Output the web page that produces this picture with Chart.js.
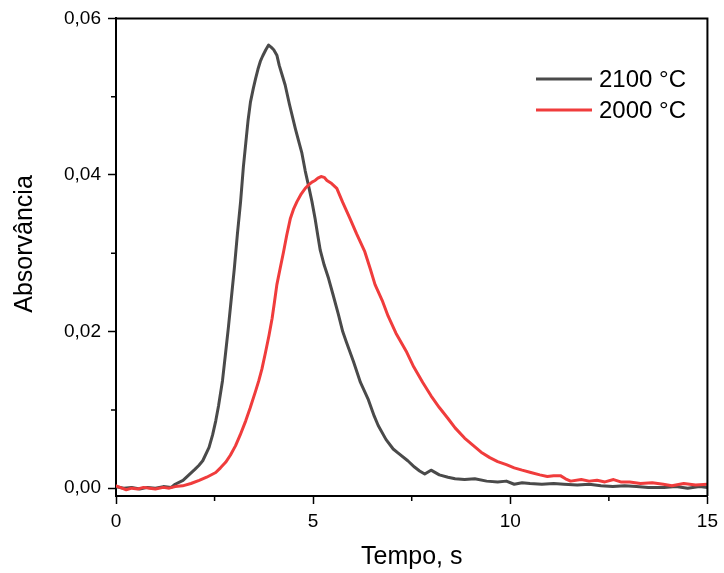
<!DOCTYPE html>
<html lang="pt">
<head>
<meta charset="UTF-8">
<title>Absorvância x Tempo</title>
<script src="https://cdn.jsdelivr.net/npm/chart.js"></script>
<style>
  html, body { margin: 0; padding: 0; background: #fff; }
  #wrap { width: 724px; height: 573px; }
</style>
</head>
<body>
<div id="wrap"><canvas id="chartCanvas" width="724" height="573"></canvas></div>
<script>
// curva 2100 °C
const tempo2100 = [0.0, 0.2, 0.4, 0.6, 0.8, 1.0, 1.2, 1.4, 1.5, 1.7, 1.85, 2.0, 2.1, 2.2, 2.36, 2.45, 2.53, 2.6, 2.7, 2.78,
  2.85, 2.92, 3.0, 3.08, 3.16, 3.23, 3.29, 3.35, 3.41, 3.48, 3.54, 3.6, 3.66, 3.72, 3.8, 3.87, 3.94, 4.0, 4.08, 4.14,
  4.2, 4.29, 4.4, 4.55, 4.65, 4.71, 4.8, 4.88, 4.97, 5.05, 5.12, 5.18, 5.28, 5.39, 5.5, 5.64, 5.75, 5.84, 6.02, 6.2,
  6.4, 6.55, 6.65, 6.85, 7.03, 7.15, 7.4, 7.57, 7.7, 7.83, 7.99, 8.2, 8.42, 8.6, 8.84, 9.1, 9.4, 9.68, 9.9, 10.1,
  10.3, 10.5, 10.8, 11.1, 11.36, 11.7, 12.0, 12.3, 12.6, 12.9, 13.2, 13.5, 13.9, 14.2, 14.5, 14.8, 15.0];
const abs2100 = [0.0002, 0.0000, 0.0001, -0.0001, 0.0001, 0.0000, 0.0002, 0.0001, 0.0005, 0.0010, 0.0017, 0.0024, 0.0029, 0.0035, 0.0052, 0.0068, 0.0086, 0.0105, 0.0137, 0.0173,
  0.0205, 0.0240, 0.0280, 0.0325, 0.0366, 0.0410, 0.0440, 0.0470, 0.0493, 0.0510, 0.0523, 0.0535, 0.0545, 0.0552, 0.0560, 0.0566, 0.0563, 0.0560, 0.0553, 0.0540,
  0.0530, 0.0515, 0.0490, 0.0459, 0.0440, 0.0429, 0.0405, 0.0387, 0.0366, 0.0344, 0.0322, 0.0304, 0.0285, 0.0268, 0.0248, 0.0222, 0.0200, 0.0187, 0.0162, 0.0135,
  0.0113, 0.0092, 0.0080, 0.0062, 0.0050, 0.0045, 0.0035, 0.0027, 0.0022, 0.0018, 0.0023, 0.0017, 0.0014, 0.0012, 0.0011, 0.0012, 0.0009, 0.0008, 0.0009, 0.0005,
  0.0007, 0.0006, 0.0005, 0.0006, 0.0005, 0.0004, 0.0005, 0.0003, 0.0002, 0.0003, 0.0002, 0.0001, 0.0001, 0.0002, 0.0000, 0.0002, 0.0001];

// curva 2000 °C
const tempo2000 = [0.0, 0.15, 0.26, 0.4, 0.55, 0.7, 0.85, 1.0, 1.2, 1.35, 1.5, 1.69, 1.9, 2.11, 2.3, 2.53, 2.65, 2.78, 2.9, 3.03,
  3.15, 3.29, 3.4, 3.54, 3.62, 3.7, 3.79, 3.88, 3.96, 4.02, 4.08, 4.16, 4.25, 4.33, 4.42, 4.5, 4.59, 4.7, 4.8, 4.9,
  4.97, 5.05, 5.12, 5.2, 5.28, 5.35, 5.47, 5.6, 5.75, 5.93, 6.1, 6.31, 6.45, 6.57, 6.75, 6.9, 7.1, 7.36, 7.55, 7.78,
  7.99, 8.2, 8.42, 8.6, 8.84, 9.05, 9.26, 9.48, 9.68, 9.9, 10.1, 10.3, 10.52, 10.75, 10.94, 11.1, 11.27, 11.4, 11.53, 11.8,
  12.0, 12.2, 12.4, 12.62, 12.8, 13.03, 13.3, 13.6, 13.88, 14.1, 14.4, 14.7, 15.0];
const abs2000 = [0.0003, 0.0000, -0.0002, 0.0000, -0.0001, 0.0001, 0.0000, -0.0001, 0.0001, 0.0000, 0.0002, 0.0003, 0.0006, 0.0010, 0.0014, 0.0020, 0.0026, 0.0033, 0.0042, 0.0054,
  0.0068, 0.0086, 0.0102, 0.0124, 0.0137, 0.0152, 0.0173, 0.0195, 0.0217, 0.0238, 0.0260, 0.0280, 0.0302, 0.0323, 0.0344, 0.0356, 0.0366, 0.0376, 0.0383, 0.0388,
  0.0391, 0.0393, 0.0396, 0.0398, 0.0397, 0.0393, 0.0389, 0.0383, 0.0365, 0.0345, 0.0325, 0.0302, 0.0280, 0.0260, 0.0240, 0.0220, 0.0198, 0.0175, 0.0155, 0.0135,
  0.0118, 0.0103, 0.0089, 0.0077, 0.0064, 0.0055, 0.0046, 0.0039, 0.0034, 0.0030, 0.0026, 0.0023, 0.0020, 0.0017, 0.0015, 0.0016, 0.0016, 0.0012, 0.0009, 0.0011,
  0.0009, 0.0010, 0.0008, 0.0011, 0.0008, 0.0008, 0.0006, 0.0007, 0.0005, 0.0003, 0.0006, 0.0004, 0.0005];

const seriesLabels = ["2100 °C", "2000 °C"];
const seriesColors = ["#4a4a4a", "#f03c3c"];
const xMajor = [0, 5, 10, 15];
const yMajor = [0, 0.02, 0.04, 0.06];

const FONT = '"Liberation Sans", Arial, sans-serif';

function pares(xs, ys) {
  return xs.map((x, i) => ({ x: x, y: ys[i] }));
}
function isMajor(list, v) {
  return list.some(m => Math.abs(m - v) < 1e-9);
}

// moldura, ticks menores, legenda e títulos dos eixos
const extras = {
  id: "extras",
  afterDraw(chart) {
    const c = chart.ctx;
    const a = chart.chartArea;
    const xs = chart.scales.x, ys = chart.scales.y;
    c.save();
    c.strokeStyle = "#000";
    c.lineWidth = 2;
    c.beginPath();
    c.moveTo(a.left, a.top); c.lineTo(a.right, a.top); c.lineTo(a.right, a.bottom);
    c.stroke();

    c.lineWidth = 1.5;
    c.beginPath();
    xs.ticks.forEach(t => {
      if (!isMajor(xMajor, t.value)) {
        const px = xs.getPixelForValue(t.value);
        c.moveTo(px, a.bottom); c.lineTo(px, a.bottom + 5);
      }
    });
    ys.ticks.forEach(t => {
      if (!isMajor(yMajor, t.value)) {
        const py = ys.getPixelForValue(t.value);
        c.moveTo(a.left, py); c.lineTo(a.left - 5, py);
      }
    });
    c.stroke();

    // legenda
    c.font = "24px " + FONT;
    c.textBaseline = "middle";
    c.textAlign = "left";
    seriesLabels.forEach((lab, i) => {
      const y = 79 + i * 31;
      c.strokeStyle = seriesColors[i];
      c.lineWidth = 3;
      c.beginPath(); c.moveTo(536, y); c.lineTo(592, y); c.stroke();
      c.fillStyle = "#000";
      c.fillText(lab, 599, y + 1);
    });

    // títulos
    c.font = "25px " + FONT;
    c.textAlign = "center";
    c.fillText("Tempo, s", (a.left + a.right) / 2, 557);
    c.translate(25, 244);
    c.rotate(-Math.PI / 2);
    c.fillText("Absorvância", 0, 0);
    c.restore();
  }
};

new Chart(document.getElementById("chartCanvas"), {
  type: "line",
  data: {
    datasets: [
      { label: seriesLabels[0], data: pares(tempo2100, abs2100), borderColor: seriesColors[0], order: 2 },
      { label: seriesLabels[1], data: pares(tempo2000, abs2000), borderColor: seriesColors[1], order: 1 }
    ]
  },
  options: {
    responsive: false,
    animation: false,
    devicePixelRatio: 1,
    layout: { padding: { top: 16, right: 13, left: 0, bottom: 0 } },
    elements: {
      point: { radius: 0 },
      line: { borderWidth: 3, tension: 0, borderJoinStyle: "round", borderCapStyle: "round" }
    },
    plugins: { legend: { display: false }, tooltip: { enabled: false } },
    scales: {
      x: {
        type: "linear",
        min: 0, max: 15,
        afterFit: s => { s.height = 77; },
        border: { display: true, color: "#000", width: 2 },
        grid: {
          drawOnChartArea: false, drawTicks: true, tickLength: 8, tickWidth: 1.5,
          tickColor: ctx => isMajor(xMajor, ctx.tick.value) ? "#000" : "rgba(0,0,0,0)"
        },
        ticks: {
          stepSize: 2.5, autoSkip: false, maxRotation: 0, color: "#000", padding: 6,
          font: { family: FONT, size: 19 },
          callback: v => isMajor(xMajor, v) ? String(v) : ""
        }
      },
      y: {
        type: "linear",
        min: -0.001, max: 0.06,
        afterFit: s => { s.width = 116; },
        border: { display: true, color: "#000", width: 2 },
        grid: {
          drawOnChartArea: false, drawTicks: true, tickLength: 8, tickWidth: 1.5,
          tickColor: ctx => isMajor(yMajor, ctx.tick.value) ? "#000" : "rgba(0,0,0,0)"
        },
        ticks: {
          stepSize: 0.01, includeBounds: false, autoSkip: false, color: "#000", padding: 7,
          font: { family: FONT, size: 19 },
          callback: v => isMajor(yMajor, v) ? v.toFixed(2).replace(".", ",") : ""
        }
      }
    }
  },
  plugins: [extras]
});
</script>
</body>
</html>
